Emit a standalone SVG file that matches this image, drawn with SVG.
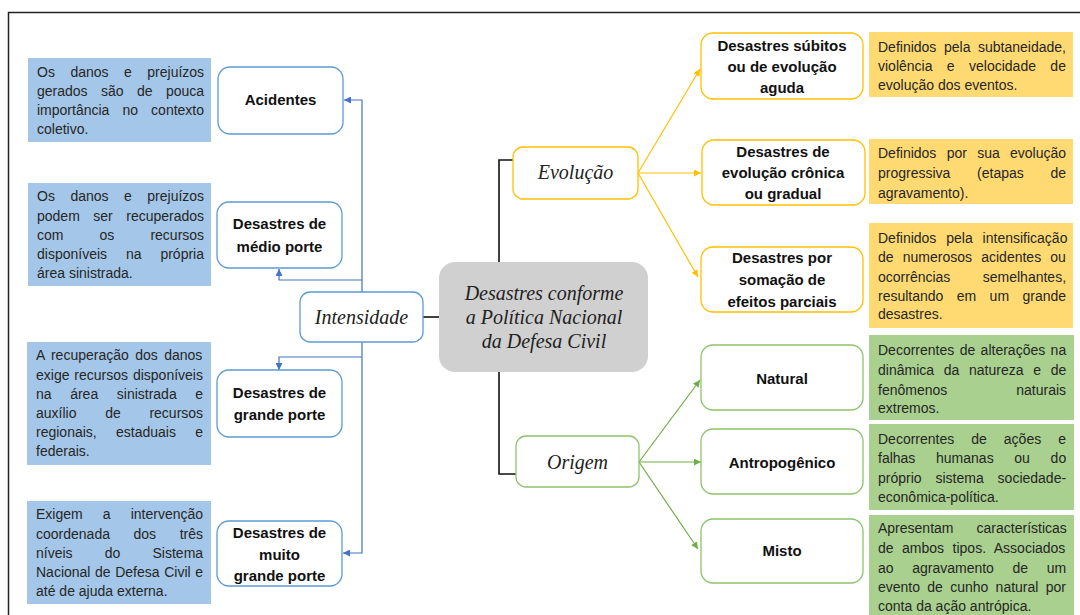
<svg xmlns="http://www.w3.org/2000/svg" width="1080" height="615" viewBox="0 0 1080 615">
<style>
.desc{font-family:"Liberation Sans",Arial,sans-serif;font-size:14px;fill:#262626}
.lbl{font-family:"Liberation Sans",Arial,sans-serif;font-size:15px;font-weight:bold;fill:#111;text-anchor:middle}
.it{font-family:"Liberation Serif","DejaVu Serif",serif;font-style:italic;font-size:20px;fill:#222;text-anchor:middle}
.nb{fill:#fff;stroke:#5B9BD5;stroke-width:1.3}
.ny{fill:#fff;stroke:#FFC000;stroke-width:1.3}
.ng{fill:#fff;stroke:#8DC36B;stroke-width:1.3}
.db{fill:#A4C6E8}
.dy{fill:#FFDA73}
.dg{fill:#A9D08E}
.cb{fill:none;stroke:#4472C4;stroke-width:1.2}
.cy{fill:none;stroke:#FFC000;stroke-width:1.2}
.cg{fill:none;stroke:#70AD47;stroke-width:1.2}
.ck{fill:none;stroke:#111;stroke-width:1.6}
</style>
<defs>
<marker id="ab" markerUnits="userSpaceOnUse" markerWidth="7" markerHeight="7" refX="7" refY="3.5" orient="auto"><path d="M0,0 L7,3.5 L0,7 z" fill="#4472C4"/></marker>
<marker id="ay" markerUnits="userSpaceOnUse" markerWidth="7" markerHeight="7" refX="7" refY="3.5" orient="auto"><path d="M0,0 L7,3.5 L0,7 z" fill="#FFC000"/></marker>
<marker id="ag" markerUnits="userSpaceOnUse" markerWidth="7" markerHeight="7" refX="7" refY="3.5" orient="auto"><path d="M0,0 L7,3.5 L0,7 z" fill="#70AD47"/></marker>
</defs>
<rect width="1080" height="615" fill="#fff"/>
<path d="M8.5,615 V12.5 H1080" fill="none" stroke="#222" stroke-width="1.5"/>

<g id="connectors">
<path class="ck" d="M499,262 V160 H513"/>
<path class="ck" d="M499,372 V474 H516"/>
<path class="ck" d="M423,317 H439"/>
<path class="cb" d="M362,292 V100 H344" marker-end="url(#ab)"/>
<path class="cb" d="M362,280 H279 V269" marker-end="url(#ab)"/>
<path class="cb" d="M362,342 V553 H343" marker-end="url(#ab)"/>
<path class="cb" d="M362,357 H279 V370" marker-end="url(#ab)"/>
<path class="cy" d="M638,173 L700,69" marker-end="url(#ay)"/>
<path class="cy" d="M638,173 L701,173" marker-end="url(#ay)"/>
<path class="cy" d="M638,173 L698,277" marker-end="url(#ay)"/>
<path class="cg" d="M639,462 L700,380" marker-end="url(#ag)"/>
<path class="cg" d="M639,462 L701,462" marker-end="url(#ag)"/>
<path class="cg" d="M639,462 L698,549" marker-end="url(#ag)"/>
</g>

<g id="central">
<rect x="439" y="262" width="209" height="110" rx="16" fill="#D0D0D0"/>
<text class="it" x="544" y="300">Desastres conforme</text>
<text class="it" x="544" y="324">a Política Nacional</text>
<text class="it" x="544" y="348">da Defesa Civil</text>
</g>

<g id="intensidade">
<rect class="nb" x="300" y="292" width="123" height="50" rx="10"/>
<text class="it" x="361.5" y="324">Intensidade</text>
</g>
<g id="evolucao">
<rect class="ny" x="513" y="147" width="125" height="52" rx="10"/>
<text class="it" x="575.5" y="179">Evolução</text>
</g>
<g id="origem">
<rect class="ng" x="516" y="436" width="123" height="51" rx="10"/>
<text class="it" x="577.5" y="469">Origem</text>
</g>

<g id="acidentes">
<rect class="nb" x="218" y="67" width="125" height="67" rx="12"/>
<text class="lbl" x="280.5" y="105">Acidentes</text>
</g>
<g id="medio">
<rect class="nb" x="217" y="202" width="125" height="66" rx="12"/>
<text class="lbl" x="279.5" y="229">Desastres de</text>
<text class="lbl" x="279.5" y="252">médio porte</text>
</g>
<g id="grande">
<rect class="nb" x="217" y="370" width="125" height="67" rx="12"/>
<text class="lbl" x="279.5" y="398">Desastres de</text>
<text class="lbl" x="279.5" y="420">grande porte</text>
</g>
<g id="muito-grande">
<rect class="nb" x="217" y="521" width="125" height="65" rx="12"/>
<text class="lbl" x="279.5" y="538">Desastres de</text>
<text class="lbl" x="279.5" y="560">muito</text>
<text class="lbl" x="279.5" y="581">grande porte</text>
</g>

<g id="desc-acidentes">
<rect class="db" x="28" y="58" width="183" height="84"/>
<text class="desc" x="37" y="77" word-spacing="11.6">Os danos e prejuízos</text>
<text class="desc" x="37" y="96" word-spacing="9.5">gerados são de pouca</text>
<text class="desc" x="37" y="115" word-spacing="9.2">importância no contexto</text>
<text class="desc" x="37" y="134">coletivo.</text>
</g>
<g id="desc-medio">
<rect class="db" x="28" y="183" width="183" height="103"/>
<text class="desc" x="37" y="201" word-spacing="11.6">Os danos e prejuízos</text>
<text class="desc" x="37" y="221" word-spacing="9.6">podem ser recuperados</text>
<text class="desc" x="37" y="240" word-spacing="32.2">com os recursos</text>
<text class="desc" x="37" y="259" word-spacing="15">disponíveis na própria</text>
<text class="desc" x="37" y="278">área sinistrada.</text>
</g>
<g id="desc-grande">
<rect class="db" x="27" y="342" width="184" height="123"/>
<text class="desc" x="36" y="360" word-spacing="2.5">A recuperação dos danos</text>
<text class="desc" x="36" y="380" word-spacing="1">exige recursos disponíveis</text>
<text class="desc" x="36" y="399" word-spacing="14.7">na área sinistrada e</text>
<text class="desc" x="36" y="418" word-spacing="24.8">auxílio de recursos</text>
<text class="desc" x="36" y="437" word-spacing="15.4">regionais, estaduais e</text>
<text class="desc" x="36" y="456">federais.</text>
</g>
<g id="desc-muito-grande">
<rect class="db" x="27" y="501" width="184" height="103"/>
<text class="desc" x="36" y="519" word-spacing="16.2">Exigem a intervenção</text>
<text class="desc" x="36" y="539" word-spacing="19.7">coordenada dos três</text>
<text class="desc" x="36" y="558" word-spacing="28.3">níveis do Sistema</text>
<text class="desc" x="36" y="577" word-spacing="0.7">Nacional de Defesa Civil e</text>
<text class="desc" x="36" y="596">até de ajuda externa.</text>
</g>

<g id="subitos">
<rect class="ny" x="701" y="33" width="162" height="66" rx="12"/>
<text class="lbl" x="782" y="51">Desastres súbitos</text>
<text class="lbl" x="782" y="72">ou de evolução</text>
<text class="lbl" x="782" y="93">aguda</text>
</g>
<g id="cronica">
<rect class="ny" x="702" y="140" width="163" height="65" rx="12"/>
<text class="lbl" x="783" y="157">Desastres de</text>
<text class="lbl" x="783" y="178">evolução crônica</text>
<text class="lbl" x="783" y="199">ou gradual</text>
</g>
<g id="somacao">
<rect class="ny" x="701" y="247" width="162" height="65" rx="12"/>
<text class="lbl" x="782" y="263">Desastres por</text>
<text class="lbl" x="782" y="285">somação de</text>
<text class="lbl" x="782" y="307">efeitos parciais</text>
</g>

<g id="desc-subitos">
<rect class="dy" x="869" y="32" width="204" height="65"/>
<text class="desc" x="878" y="52" word-spacing="3.7">Definidos pela subtaneidade,</text>
<text class="desc" x="878" y="71" word-spacing="10.5">violência e velocidade de</text>
<text class="desc" x="878" y="90">evolução dos eventos.</text>
</g>
<g id="desc-cronica">
<rect class="dy" x="869" y="139" width="204" height="65"/>
<text class="desc" x="878" y="158" word-spacing="6.4">Definidos por sua evolução</text>
<text class="desc" x="878" y="178" word-spacing="22.8">progressiva (etapas de</text>
<text class="desc" x="878" y="198">agravamento).</text>
</g>
<g id="desc-somacao">
<rect class="dy" x="869" y="223" width="204" height="105"/>
<text class="desc" x="878" y="243" word-spacing="6">Definidos pela intensificação</text>
<text class="desc" x="878" y="262" word-spacing="5.3">de numerosos acidentes ou</text>
<text class="desc" x="878" y="282" word-spacing="28.5">ocorrências semelhantes,</text>
<text class="desc" x="878" y="301" word-spacing="9.5">resultando em um grande</text>
<text class="desc" x="878" y="319">desastres.</text>
</g>

<g id="natural">
<rect class="ng" x="701" y="345" width="162" height="65" rx="12"/>
<text class="lbl" x="782" y="384">Natural</text>
</g>
<g id="antropogenico">
<rect class="ng" x="701" y="429" width="162" height="65" rx="12"/>
<text class="lbl" x="782" y="468">Antropogênico</text>
</g>
<g id="misto">
<rect class="ng" x="701" y="519" width="162" height="64" rx="12"/>
<text class="lbl" x="782" y="556">Misto</text>
</g>

<g id="desc-natural">
<rect class="dg" x="869" y="335" width="205" height="85"/>
<text class="desc" x="878" y="355" word-spacing="1.5">Decorrentes de alterações na</text>
<text class="desc" x="878" y="375" word-spacing="5.8">dinâmica da natureza e de</text>
<text class="desc" x="878" y="395" word-spacing="65.1">fenômenos naturais</text>
<text class="desc" x="878" y="413">extremos.</text>
</g>
<g id="desc-antropogenico">
<rect class="dg" x="869" y="424" width="205" height="86"/>
<text class="desc" x="878" y="444" word-spacing="13.1">Decorrentes de ações e</text>
<text class="desc" x="878" y="463" word-spacing="16.8">falhas humanas ou do</text>
<text class="desc" x="878" y="483" word-spacing="10">próprio sistema sociedade-</text>
<text class="desc" x="878" y="502">econômica-política.</text>
</g>
<g id="desc-misto">
<rect class="dg" x="869" y="515" width="205" height="100"/>
<text class="desc" x="878" y="533" word-spacing="19.2">Apresentam características</text>
<text class="desc" x="878" y="553" word-spacing="4.6">de ambos tipos. Associados</text>
<text class="desc" x="878" y="573" word-spacing="14.7">ao agravamento de um</text>
<text class="desc" x="878" y="592" word-spacing="3.4">evento de cunho natural por</text>
<text class="desc" x="878" y="611">conta da ação antrópica.</text>
</g>
</svg>
